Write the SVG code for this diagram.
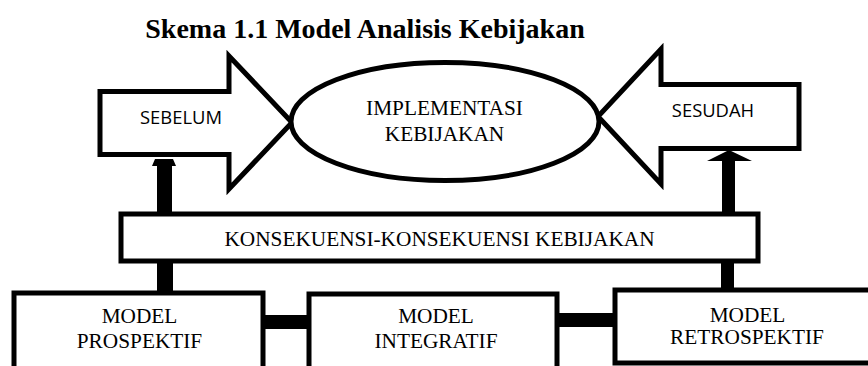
<svg xmlns="http://www.w3.org/2000/svg" width="868" height="366" viewBox="0 0 868 366">
<style>
.serif{font-family:"Liberation Serif","Times New Roman",serif;font-size:21.3px;fill:#000;text-anchor:middle}
.sans{font-family:"Open Sans","Liberation Sans",sans-serif;font-size:18.4px;fill:#000;text-anchor:middle}
.title{font-family:"Liberation Serif","Times New Roman",serif;font-size:28px;font-weight:bold;fill:#000;text-anchor:middle}
.shape{fill:#fff;stroke:#000;stroke-width:5;stroke-linejoin:miter}
.bar{fill:#000;stroke:none}
</style>
<rect width="868" height="366" fill="#fff"/>
<text class="title" x="365" y="38">Skema 1.1 Model Analisis Kebijakan</text>
<g id="connectors">
<polygon class="bar" points="152,166 155,159 173,159 176,166 172,166 172,216 157,216 157,166"/>
<polygon class="bar" points="729,150 752,161 735,161 735,216 722,216 722,161 707,161"/>
<rect class="bar" x="157" y="258" width="16" height="36"/>
<rect class="bar" x="721" y="258" width="13" height="34"/>
<rect class="bar" x="260" y="315" width="52" height="14"/>
<rect class="bar" x="554" y="313" width="64" height="14"/>
</g>
<g id="sebelum">
<path class="shape" d="M100,91.5 H229 V56 L292,122.5 L229,189 V154.5 H100 Z"/>
<text class="sans" x="181" y="124">SEBELUM</text>
</g>
<g id="sesudah">
<path class="shape" d="M799,84.5 H661 V49 L598,116.5 L661,184 V148.5 H799 Z"/>
<text class="sans" x="713" y="117">SESUDAH</text>
</g>
<g id="implementasi">
<ellipse class="shape" cx="445" cy="121.5" rx="154" ry="59"/>
<text class="serif" x="444.5" y="115">IMPLEMENTASI</text>
<text class="serif" x="444.5" y="141">KEBIJAKAN</text>
</g>
<g id="konsekuensi">
<rect class="shape" x="121" y="214" width="637" height="47"/>
<text class="serif" x="439.5" y="246">KONSEKUENSI-KONSEKUENSI KEBIJAKAN</text>
</g>
<g id="prospektif">
<rect class="shape" x="14" y="293" width="249" height="100"/>
<text class="serif" x="139.5" y="323">MODEL</text>
<text class="serif" x="139.5" y="348">PROSPEKTIF</text>
</g>
<g id="integratif">
<rect class="shape" x="309" y="294" width="248" height="100"/>
<text class="serif" x="436" y="323">MODEL</text>
<text class="serif" x="436" y="348">INTEGRATIF</text>
</g>
<g id="retrospektif">
<rect class="shape" x="615" y="290" width="280" height="73"/>
<text class="serif" x="747.5" y="322">MODEL</text>
<text class="serif" x="747" y="344">RETROSPEKTIF</text>
</g>
</svg>
